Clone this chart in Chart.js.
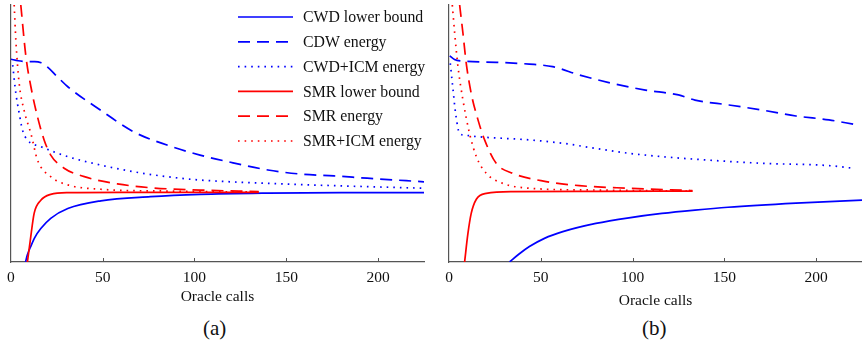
<!DOCTYPE html>
<html>
<head>
<meta charset="utf-8">
<script src="https://cdn.jsdelivr.net/npm/chart.js@4/dist/chart.umd.min.js"></script>
<style>
  body { margin: 0; background: #fff; width: 862px; height: 347px; position: relative; overflow: hidden; }
  .box { position: absolute; top: 0; height: 310px; }
  .cap { position: absolute; top: 316px; font: 21px "Liberation Serif", serif; color: #111; line-height: 24px; }
</style>
</head>
<body>
<div class="box" style="left:0; width:440px;"><canvas id="chartA"></canvas></div>
<div class="box" style="left:430px; width:432px;"><canvas id="chartB"></canvas></div>
<div class="cap" style="left:203px;">(a)</div>
<div class="cap" style="left:642px;">(b)</div>
<script>
// series labels, same for both panels
const labels = ['CWD lower bound', 'CDW energy', 'CWD+ICM energy', 'SMR lower bound', 'SMR energy', 'SMR+ICM energy'];
const xTicks = [0, 50, 100, 150, 200];

// panel (a): [oracle calls, value]
const A_CWD_LB = [[8,0],[9,2.8],[10.9,6.2],[13,9.5],[16.3,13],[21.7,17],[31,20.8],[49,23.8],[76,25.4],[103,26.3],[140,26.8],[180,27],[225,27]];
const A_CDW_EN = [[0,78.9],[4,78.3],[9,78],[13,78],[16.5,77.5],[20,75.8],[25,72.3],[31,68.2],[49,59],[67,50.6],[85,45.5],[103,41.6],[121,38.6],[140,35.8],[158,34.2],[176,33.5],[194,32.6],[225,31.2]];
const A_CWD_ICM = [[1,76.6],[2.7,65.7],[4.5,58],[6.3,51.4],[9,47.5],[16.3,44.9],[31,41],[49,37.7],[67,35.1],[85,33.2],[103,31.9],[140,30.6],[176,29.7],[225,28.7]];
const A_SMR_LB = [[9,0],[10.5,8],[12.7,19],[16.3,24],[21.7,26.3],[31,27],[60,27.1],[100,27.1],[135,27.1]];
const A_SMR_EN = [[5.4,100],[8.2,79.9],[10.9,68.2],[14.5,56.5],[18.1,47.5],[21.7,41.6],[29,36.5],[40,33.2],[58,30.4],[76,28.9],[103,28],[135,27.4]];
const A_SMR_ICM = [[1.8,100],[2.7,86.4],[4.5,69.6],[7.2,59],[10.9,50],[14.5,39.7],[21.7,33.2],[31,30],[49,28.3],[85,27.6],[135,27.2]];

// panel (b)
const B_CWD_LB = [[33,0],[38,3],[43.8,6],[52,9.2],[62,11.8],[80,15],[98,17.2],[116,18.9],[134,20.2],[152,21.3],[189,22.9],[225,24.1]];
const B_CDW_EN = [[0.4,80.2],[3,78.8],[7.6,78.2],[25.7,77.7],[43.8,77],[56.5,76],[71,72.8],[89,69.5],[107,66.9],[125,65],[134,63],[152.5,61.1],[170.7,59.1],[189,56.8],[207,55.3],[220.5,53.6]];
const B_CWD_ICM = [[0.7,77.3],[2.2,67],[3.6,57.8],[5.8,50],[9,49.3],[14.9,48.8],[43.8,47.5],[62,46.2],[80,44.2],[98,42.3],[116,41],[134,40],[170.7,38.4],[207,37.5],[221,36.4]];
const B_SMR_LB = [[8.5,0],[10.3,11],[12.1,18.9],[14.9,24.4],[20.3,26.7],[34.8,27.4],[80,27.5],[132.6,27.6]];
const B_SMR_EN = [[5.8,100],[7.6,89],[9.4,77.3],[12.1,65.6],[15.8,55.3],[19.4,47.5],[25.7,38.4],[34.8,34.5],[52.9,31.3],[71,29.7],[98,28.7],[132.6,27.8]];
const B_SMR_ICM = [[1.8,100],[3.1,89],[4.9,76],[7.6,63],[11.2,50],[14.9,41],[20.3,34.5],[29.3,30.6],[43.8,28.7],[80,28],[132.6,27.6]];

const BLUE = '#0000ff';
const RED = '#ff0000';
const AXIS = '#555555';
const FONT = '"Liberation Serif", "Times New Roman", serif';

const styles = [
    { color: BLUE, dash: [] },
    { color: BLUE, dash: [12, 7] },
    { color: BLUE, dash: [1.6, 5] },
    { color: RED, dash: [] },
    { color: RED, dash: [12, 7] },
    { color: RED, dash: [1.6, 5] }
];

function toPoints(arr) {
    return arr.map(p => ({ x: p[0], y: p[1] }));
}

function makeDatasets(series) {
    return series.map((s, i) => ({
        label: labels[i],
        data: toPoints(s),
        borderColor: styles[i].color,
        borderDash: styles[i].dash,
        borderWidth: 1.7,
        pointRadius: 0,
        fill: false,
        cubicInterpolationMode: 'monotone',
        order: 6 - i
    }));
}

// small inward tick marks on the x axis
const innerTicks = {
    id: 'innerTicks',
    afterDraw(chart) {
        const ctx = chart.ctx;
        const x = chart.scales.x;
        const bottom = chart.chartArea.bottom;
        ctx.save();
        ctx.strokeStyle = AXIS;
        ctx.lineWidth = 1;
        xTicks.forEach(v => {
            if (v === 0) return;
            const px = Math.round(x.getPixelForValue(v)) + 0.5;
            ctx.beginPath();
            ctx.moveTo(px, bottom);
            ctx.lineTo(px, bottom - 4);
            ctx.stroke();
        });
        ctx.restore();
    }
};

// legend drawn inside the plot, upper right (panel a only)
const insideLegend = {
    id: 'insideLegend',
    afterDraw(chart, args, opts) {
        if (!opts.show) return;
        const ctx = chart.ctx;
        ctx.save();
        ctx.font = '15.8px ' + FONT;
        ctx.textBaseline = 'middle';
        chart.data.datasets.forEach((ds, i) => {
            const y = 17 + i * 24.8;
            ctx.strokeStyle = ds.borderColor;
            ctx.lineWidth = 1.7;
            ctx.setLineDash(ds.borderDash);
            ctx.beginPath();
            ctx.moveTo(238, y);
            ctx.lineTo(293, y);
            ctx.stroke();
            ctx.setLineDash([]);
            ctx.fillStyle = '#111';
            ctx.fillText(ds.label, 303, y + 1);
        });
        ctx.restore();
    }
};

function makeChart(id, series, padLeft, padRight, titlePad, showLegend) {
    const ctx = document.getElementById(id).getContext('2d');
    return new Chart(ctx, {
        type: 'line',
        data: { datasets: makeDatasets(series) },
        options: {
            responsive: true,
            maintainAspectRatio: false,
            animation: false,
            layout: { padding: { left: padLeft, right: padRight, top: 5, bottom: 0 } },
            plugins: {
                legend: { display: false },
                tooltip: { enabled: false },
                insideLegend: { show: showLegend }
            },
            scales: {
                x: {
                    type: 'linear',
                    min: 0,
                    max: 225,
                    afterFit: s => { s.height = 48; },
                    ticks: {
                        stepSize: 50,
                        includeBounds: false,
                        padding: 7,
                        color: '#111',
                        font: { family: FONT, size: 15.5 }
                    },
                    grid: { display: false, drawTicks: false },
                    border: { display: true, color: AXIS, width: 1.2 },
                    title: {
                        display: true,
                        text: 'Oracle calls',
                        color: '#111',
                        font: { family: FONT, size: 15.5 },
                        padding: { top: 0, bottom: titlePad }
                    }
                },
                y: {
                    min: 0,
                    max: 100,
                    afterFit: s => { s.width = 0; },
                    ticks: { display: false },
                    grid: { display: false, drawTicks: false },
                    border: { display: true, color: AXIS, width: 1.2 }
                }
            }
        },
        plugins: [innerTicks, insideLegend]
    });
}

makeChart('chartA', [A_CWD_LB, A_CDW_EN, A_CWD_ICM, A_SMR_LB, A_SMR_EN, A_SMR_ICM], 10, 16, 4, true);
makeChart('chartB', [B_CWD_LB, B_CDW_EN, B_CWD_ICM, B_SMR_LB, B_SMR_EN, B_SMR_ICM], 19, 0, 0, false);
</script>
</body>
</html>
